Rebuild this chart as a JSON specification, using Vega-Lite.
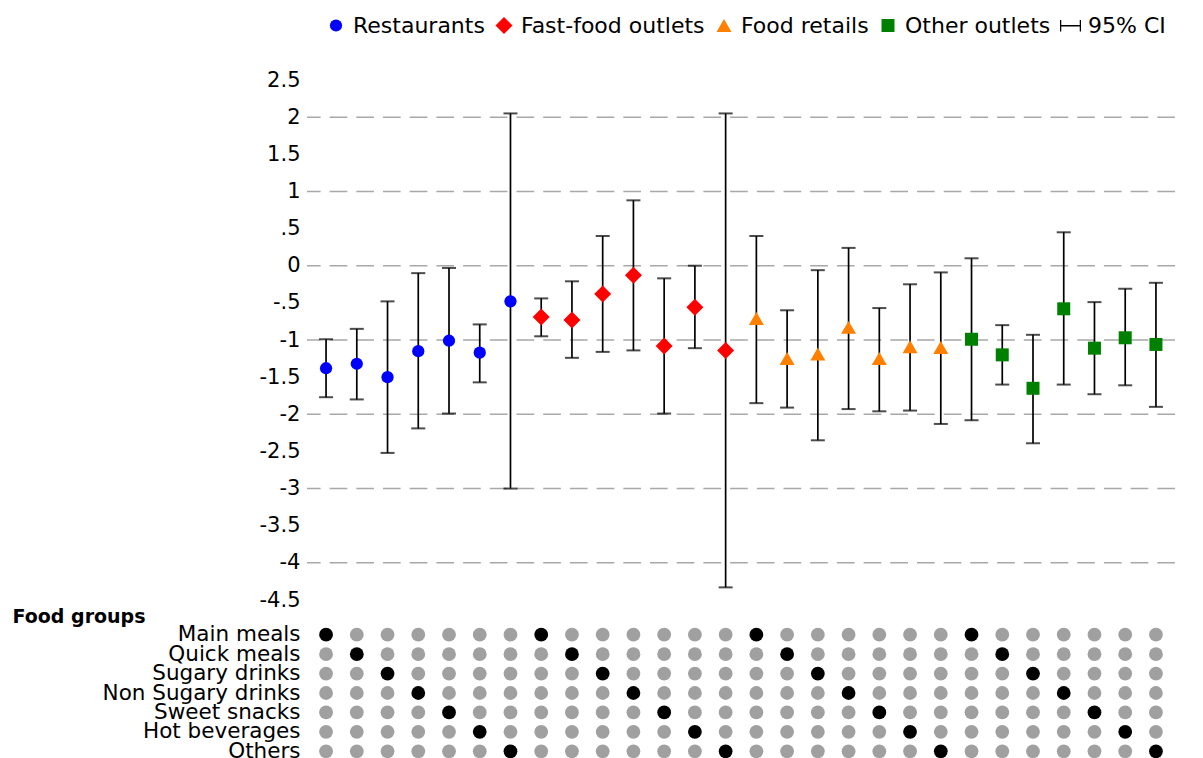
{
  "$schema": "https://vega.github.io/schema/vega-lite/v6.json",
  "padding": {"left": 12, "top": 14, "right": 5, "bottom": 5},
  "background": "white",
  "config": {
    "font": "DejaVu Sans",
    "view": {"stroke": null},
    "axis": {"labelColor": "black", "titleColor": "black", "labelOverlap": false, "labelSeparation": 0},
    "legend": {"labelColor": "black"}
  },
  "datasets": {
    "est": [
      {"col": 1, "outlet": "Restaurants", "group": "Main meals", "est": -1.38, "lo": -1.77, "hi": -0.99},
      {"col": 2, "outlet": "Restaurants", "group": "Quick meals", "est": -1.32, "lo": -1.80, "hi": -0.85},
      {"col": 3, "outlet": "Restaurants", "group": "Sugary drinks", "est": -1.50, "lo": -2.52, "hi": -0.48},
      {"col": 4, "outlet": "Restaurants", "group": "Non Sugary drinks", "est": -1.15, "lo": -2.19, "hi": -0.10},
      {"col": 5, "outlet": "Restaurants", "group": "Sweet snacks", "est": -1.01, "lo": -1.99, "hi": -0.03},
      {"col": 6, "outlet": "Restaurants", "group": "Hot beverages", "est": -1.17, "lo": -1.57, "hi": -0.79},
      {"col": 7, "outlet": "Restaurants", "group": "Others", "est": -0.48, "lo": -3.00, "hi": 2.05},
      {"col": 8, "outlet": "Fast-food outlets", "group": "Main meals", "est": -0.69, "lo": -0.95, "hi": -0.44},
      {"col": 9, "outlet": "Fast-food outlets", "group": "Quick meals", "est": -0.73, "lo": -1.24, "hi": -0.21},
      {"col": 10, "outlet": "Fast-food outlets", "group": "Sugary drinks", "est": -0.38, "lo": -1.16, "hi": 0.40},
      {"col": 11, "outlet": "Fast-food outlets", "group": "Non Sugary drinks", "est": -0.13, "lo": -1.14, "hi": 0.88},
      {"col": 12, "outlet": "Fast-food outlets", "group": "Sweet snacks", "est": -1.08, "lo": -1.99, "hi": -0.17},
      {"col": 13, "outlet": "Fast-food outlets", "group": "Hot beverages", "est": -0.56, "lo": -1.11, "hi": 0.00},
      {"col": 14, "outlet": "Fast-food outlets", "group": "Others", "est": -1.14, "lo": -4.33, "hi": 2.05},
      {"col": 15, "outlet": "Food retails", "group": "Main meals", "est": -0.71, "lo": -1.85, "hi": 0.40},
      {"col": 16, "outlet": "Food retails", "group": "Quick meals", "est": -1.25, "lo": -1.91, "hi": -0.60},
      {"col": 17, "outlet": "Food retails", "group": "Sugary drinks", "est": -1.19, "lo": -2.35, "hi": -0.06},
      {"col": 18, "outlet": "Food retails", "group": "Non Sugary drinks", "est": -0.83, "lo": -1.93, "hi": 0.24},
      {"col": 19, "outlet": "Food retails", "group": "Sweet snacks", "est": -1.25, "lo": -1.96, "hi": -0.57},
      {"col": 20, "outlet": "Food retails", "group": "Hot beverages", "est": -1.09, "lo": -1.95, "hi": -0.25},
      {"col": 21, "outlet": "Food retails", "group": "Others", "est": -1.10, "lo": -2.13, "hi": -0.09},
      {"col": 22, "outlet": "Other outlets", "group": "Main meals", "est": -0.99, "lo": -2.08, "hi": 0.10},
      {"col": 23, "outlet": "Other outlets", "group": "Quick meals", "est": -1.20, "lo": -1.60, "hi": -0.80},
      {"col": 24, "outlet": "Other outlets", "group": "Sugary drinks", "est": -1.65, "lo": -2.39, "hi": -0.93},
      {"col": 25, "outlet": "Other outlets", "group": "Non Sugary drinks", "est": -0.58, "lo": -1.60, "hi": 0.45},
      {"col": 26, "outlet": "Other outlets", "group": "Sweet snacks", "est": -1.11, "lo": -1.73, "hi": -0.49},
      {"col": 27, "outlet": "Other outlets", "group": "Hot beverages", "est": -0.97, "lo": -1.61, "hi": -0.31},
      {"col": 28, "outlet": "Other outlets", "group": "Others", "est": -1.06, "lo": -1.90, "hi": -0.23}
    ],
    "grid": [{"g": 2}, {"g": 1}, {"g": 0}, {"g": -1}, {"g": -2}, {"g": -3}, {"g": -4}],
    "mat": [
      {"col": 1, "Main meals": 1, "Quick meals": 0, "Sugary drinks": 0, "Non Sugary drinks": 0, "Sweet snacks": 0, "Hot beverages": 0, "Others": 0},
      {"col": 2, "Main meals": 0, "Quick meals": 1, "Sugary drinks": 0, "Non Sugary drinks": 0, "Sweet snacks": 0, "Hot beverages": 0, "Others": 0},
      {"col": 3, "Main meals": 0, "Quick meals": 0, "Sugary drinks": 1, "Non Sugary drinks": 0, "Sweet snacks": 0, "Hot beverages": 0, "Others": 0},
      {"col": 4, "Main meals": 0, "Quick meals": 0, "Sugary drinks": 0, "Non Sugary drinks": 1, "Sweet snacks": 0, "Hot beverages": 0, "Others": 0},
      {"col": 5, "Main meals": 0, "Quick meals": 0, "Sugary drinks": 0, "Non Sugary drinks": 0, "Sweet snacks": 1, "Hot beverages": 0, "Others": 0},
      {"col": 6, "Main meals": 0, "Quick meals": 0, "Sugary drinks": 0, "Non Sugary drinks": 0, "Sweet snacks": 0, "Hot beverages": 1, "Others": 0},
      {"col": 7, "Main meals": 0, "Quick meals": 0, "Sugary drinks": 0, "Non Sugary drinks": 0, "Sweet snacks": 0, "Hot beverages": 0, "Others": 1},
      {"col": 8, "Main meals": 1, "Quick meals": 0, "Sugary drinks": 0, "Non Sugary drinks": 0, "Sweet snacks": 0, "Hot beverages": 0, "Others": 0},
      {"col": 9, "Main meals": 0, "Quick meals": 1, "Sugary drinks": 0, "Non Sugary drinks": 0, "Sweet snacks": 0, "Hot beverages": 0, "Others": 0},
      {"col": 10, "Main meals": 0, "Quick meals": 0, "Sugary drinks": 1, "Non Sugary drinks": 0, "Sweet snacks": 0, "Hot beverages": 0, "Others": 0},
      {"col": 11, "Main meals": 0, "Quick meals": 0, "Sugary drinks": 0, "Non Sugary drinks": 1, "Sweet snacks": 0, "Hot beverages": 0, "Others": 0},
      {"col": 12, "Main meals": 0, "Quick meals": 0, "Sugary drinks": 0, "Non Sugary drinks": 0, "Sweet snacks": 1, "Hot beverages": 0, "Others": 0},
      {"col": 13, "Main meals": 0, "Quick meals": 0, "Sugary drinks": 0, "Non Sugary drinks": 0, "Sweet snacks": 0, "Hot beverages": 1, "Others": 0},
      {"col": 14, "Main meals": 0, "Quick meals": 0, "Sugary drinks": 0, "Non Sugary drinks": 0, "Sweet snacks": 0, "Hot beverages": 0, "Others": 1},
      {"col": 15, "Main meals": 1, "Quick meals": 0, "Sugary drinks": 0, "Non Sugary drinks": 0, "Sweet snacks": 0, "Hot beverages": 0, "Others": 0},
      {"col": 16, "Main meals": 0, "Quick meals": 1, "Sugary drinks": 0, "Non Sugary drinks": 0, "Sweet snacks": 0, "Hot beverages": 0, "Others": 0},
      {"col": 17, "Main meals": 0, "Quick meals": 0, "Sugary drinks": 1, "Non Sugary drinks": 0, "Sweet snacks": 0, "Hot beverages": 0, "Others": 0},
      {"col": 18, "Main meals": 0, "Quick meals": 0, "Sugary drinks": 0, "Non Sugary drinks": 1, "Sweet snacks": 0, "Hot beverages": 0, "Others": 0},
      {"col": 19, "Main meals": 0, "Quick meals": 0, "Sugary drinks": 0, "Non Sugary drinks": 0, "Sweet snacks": 1, "Hot beverages": 0, "Others": 0},
      {"col": 20, "Main meals": 0, "Quick meals": 0, "Sugary drinks": 0, "Non Sugary drinks": 0, "Sweet snacks": 0, "Hot beverages": 1, "Others": 0},
      {"col": 21, "Main meals": 0, "Quick meals": 0, "Sugary drinks": 0, "Non Sugary drinks": 0, "Sweet snacks": 0, "Hot beverages": 0, "Others": 1},
      {"col": 22, "Main meals": 1, "Quick meals": 0, "Sugary drinks": 0, "Non Sugary drinks": 0, "Sweet snacks": 0, "Hot beverages": 0, "Others": 0},
      {"col": 23, "Main meals": 0, "Quick meals": 1, "Sugary drinks": 0, "Non Sugary drinks": 0, "Sweet snacks": 0, "Hot beverages": 0, "Others": 0},
      {"col": 24, "Main meals": 0, "Quick meals": 0, "Sugary drinks": 1, "Non Sugary drinks": 0, "Sweet snacks": 0, "Hot beverages": 0, "Others": 0},
      {"col": 25, "Main meals": 0, "Quick meals": 0, "Sugary drinks": 0, "Non Sugary drinks": 1, "Sweet snacks": 0, "Hot beverages": 0, "Others": 0},
      {"col": 26, "Main meals": 0, "Quick meals": 0, "Sugary drinks": 0, "Non Sugary drinks": 0, "Sweet snacks": 1, "Hot beverages": 0, "Others": 0},
      {"col": 27, "Main meals": 0, "Quick meals": 0, "Sugary drinks": 0, "Non Sugary drinks": 0, "Sweet snacks": 0, "Hot beverages": 1, "Others": 0},
      {"col": 28, "Main meals": 0, "Quick meals": 0, "Sugary drinks": 0, "Non Sugary drinks": 0, "Sweet snacks": 0, "Hot beverages": 0, "Others": 1}
    ]
  },
  "bounds": "flush",
  "spacing": 25,
  "resolve": {"scale": {"x": "independent", "y": "independent", "color": "independent", "shape": "independent", "size": "independent"}},
  "vconcat": [
    {
      "width": 868,
      "height": 520,
      "layer": [
        {
          "data": {"name": "grid"},
          "mark": {"type": "rule", "color": "#a8a8a8", "strokeWidth": 1.5, "strokeDash": [17.7, 9]},
          "encoding": {
            "y": {
              "field": "g", "type": "quantitative",
              "scale": {"domain": [-4.5, 2.5], "nice": false, "zero": false},
              "axis": {
                "title": null, "domain": false, "ticks": false, "grid": false, "labelPadding": 7, "labelFontSize": 21,
                "labelOverlap": false, "labelSeparation": 0, "labelFlush": false, "tickCount": 30,
                "values": [2.5, 2, 1.5, 1, 0.5, 0, -0.5, -1, -1.5, -2, -2.5, -3, -3.5, -4, -4.5],
                "labelExpr": "datum.value == 0.5 ? '.5' : (datum.value == -0.5 ? '-.5' : '' + datum.value)"
              }
            }
          }
        },
        {
          "mark": {"type": "rule", "color": "#999999", "strokeWidth": 2, "strokeDash": [17.7, 9]},
          "encoding": {"y": {"datum": 0, "type": "quantitative"}}
        },
        {
          "data": {"name": "est"},
          "mark": {"type": "errorbar", "color": "black", "thickness": 1.7, "ticks": {"size": 14, "thickness": 2, "color": "black"}},
          "encoding": {
            "x": {"field": "col", "type": "ordinal", "scale": {"type": "point", "padding": 0.62}, "axis": null},
            "y": {"field": "lo", "type": "quantitative"},
            "y2": {"field": "hi"}
          }
        },
        {
          "data": {"name": "est"},
          "mark": {"type": "point", "filled": true, "opacity": 1},
          "encoding": {
            "x": {"field": "col", "type": "ordinal"},
            "y": {"field": "est", "type": "quantitative"},
            "color": {
              "field": "outlet", "type": "nominal",
              "scale": {"domain": ["Restaurants", "Fast-food outlets", "Food retails", "Other outlets", "95% CI"], "range": ["#0000ff", "#ff0000", "#ff8000", "#008000", "#000000"]},
              "legend": {"orient": "none", "legendX": 18, "legendY": -66, "direction": "horizontal", "title": null, "labelFontSize": 22, "labelLimit": 0, "labelOffset": 6, "columnPadding": 8}
            },
            "shape": {
              "field": "outlet", "type": "nominal",
              "scale": {"domain": ["Restaurants", "Fast-food outlets", "Food retails", "Other outlets", "95% CI"], "range": ["circle", "diamond", "triangle-up", "square", "M-1,-0.55H-0.88V-0.07H0.88V-0.55H1V0.55H0.88V0.07H-0.88V0.55H-1Z"]},
              "legend": {"orient": "none", "legendX": 18, "legendY": -66, "direction": "horizontal", "title": null, "labelFontSize": 22, "labelLimit": 0, "labelOffset": 6, "columnPadding": 8}
            },
            "size": {
              "field": "outlet", "type": "nominal",
              "scale": {"type": "ordinal", "domain": ["Restaurants", "Fast-food outlets", "Food retails", "Other outlets", "95% CI"], "range": [150, 289, 225, 169, 441]},
              "legend": {"orient": "none", "legendX": 18, "legendY": -66, "direction": "horizontal", "title": null, "labelFontSize": 22, "labelLimit": 0, "labelOffset": 6, "columnPadding": 8}
            }
          }
        }
      ]
    },
    {
      "width": 868,
      "height": 136,
      "data": {"name": "mat"},
      "transform": [
        {"fold": ["Main meals", "Quick meals", "Sugary drinks", "Non Sugary drinks", "Sweet snacks", "Hot beverages", "Others"], "as": ["group", "on"]}
      ],
      "mark": {"type": "point", "filled": true, "opacity": 1, "size": 190, "shape": "circle"},
      "encoding": {
        "x": {"field": "col", "type": "ordinal", "scale": {"type": "point", "padding": 0.62}, "axis": null},
        "y": {
          "field": "group", "type": "nominal",
          "sort": ["Main meals", "Quick meals", "Sugary drinks", "Non Sugary drinks", "Sweet snacks", "Hot beverages", "Others"],
          "scale": {"type": "point", "padding": 0.5},
          "axis": {
            "title": "Food groups", "titleAngle": 0, "titleAlign": "left", "titleBaseline": "alphabetic",
            "titleX": -295, "titleY": -3, "titleFontSize": 19, "titleFontWeight": "bold",
            "labelFontSize": 21.5, "labelLimit": 0, "labelPadding": 7, "domain": false, "ticks": false, "labelOverlap": false, "grid": false
          }
        },
        "color": {"condition": {"test": "datum.on == 1", "value": "#000000"}, "value": "#a0a0a0"}
      }
    }
  ]
}
